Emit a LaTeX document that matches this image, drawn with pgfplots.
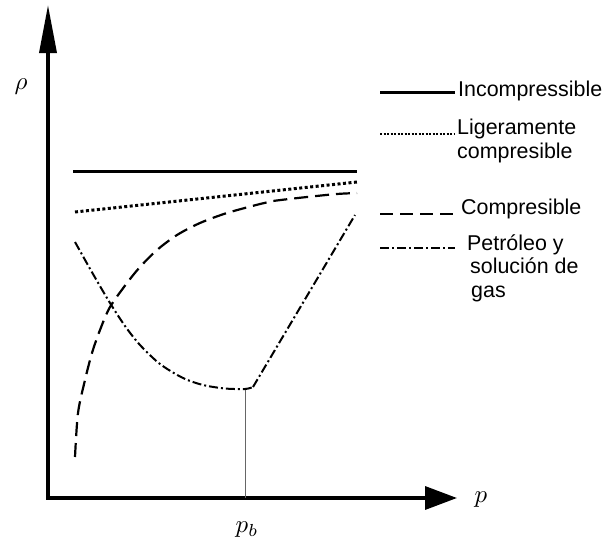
\documentclass[border=0pt]{standalone}
\usepackage{fontspec}
\setmainfont{Liberation Sans}
\usepackage{graphicx}
\usepackage{pgfplots}
\pgfplotsset{compat=1.18}
\usetikzlibrary{arrows.meta}
\begin{document}
\begin{tikzpicture}
\useasboundingbox (-48bp,-54bp) rectangle (556bp,498bp);
\begin{axis}[
  at={(0,0)}, anchor=south west,
  x=1bp, y=1bp,
  xmin=0, xmax=409, ymin=0, ymax=493,
  axis lines=left,
  xtick=\empty, ytick=\empty,
  clip=false,
  axis line style={line width=3.5bp, line cap=rect},
  x axis line style={-{Triangle[length=32bp,width=23bp]}},
  y axis line style={-{Triangle[length=48bp,width=17bp]}},
]
% vertical line at p_b
\addplot[gray!80!black, line width=1bp] coordinates {(197,0) (197,109)};
% Incompresible
\addplot[black, line width=3bp] coordinates {(25,327) (309,327)};
% Ligeramente compresible
\addplot[black, line width=3bp, dash pattern=on 3bp off 2.5bp] coordinates {(27,286) (309,316)};
% Compresible
\addplot[black, line width=2.2bp, dash pattern=on 14bp off 7bp, smooth] coordinates {
 (27,41) (30,85) (37,118) (44,145) (52,168) (62,191) (79,215) (92,231) (109,248)
 (129,263) (152,275) (179,285) (212,294) (225,297) (259,301) (289,304) (309,305)};
% Petroleo y solucion de gas
\addplot[black, line width=2bp, dash pattern=on 9bp off 3bp on 2bp off 3bp, smooth] coordinates {
 (27,256) (45,224) (62,195) (77,172) (92,153) (112,134) (135,120) (155,113) (177,109.5) (197,109) (205,111)};
\addplot[black, line width=2bp, dash pattern=on 9bp off 3bp on 2bp off 3bp] coordinates {
 (205,111) (307,283)};

% legend samples
\draw[black, line width=3bp] (axis cs:332,406) -- (axis cs:407,406);
\draw[black, line width=2.5bp, dash pattern=on 2bp off 1.5bp] (axis cs:332,364) -- (axis cs:407,364);
\draw[black, line width=2bp, dash pattern=on 13bp off 7bp] (axis cs:332,284) -- (axis cs:410,284);
\draw[black, line width=2bp, dash pattern=on 9bp off 3bp on 2bp off 3bp] (axis cs:332,250) -- (axis cs:407,250);

\begin{scope}[every node/.style={anchor=base west, inner sep=0pt, font=\fontsize{21.5}{24}\selectfont}]
\node at (axis cs:410,402) {Incompressible};
\node at (axis cs:409,364) {Ligeramente};
\node at (axis cs:409,340) {compresible};
\node at (axis cs:413,284) {Compresible};
\node at (axis cs:419,248) {Petróleo y};
\node at (axis cs:422,225) {solución de};
\node at (axis cs:423,201) {gas};
\end{scope}

\node at (axis cs:-27,411) {\scalebox{2.5}{$\rho$}};
\node at (axis cs:433,-2) {\scalebox{2.5}{$p$}};
\node at (axis cs:199,-32) {\scalebox{2.5}{$p_b$}};
\end{axis}
\end{tikzpicture}
\end{document}
